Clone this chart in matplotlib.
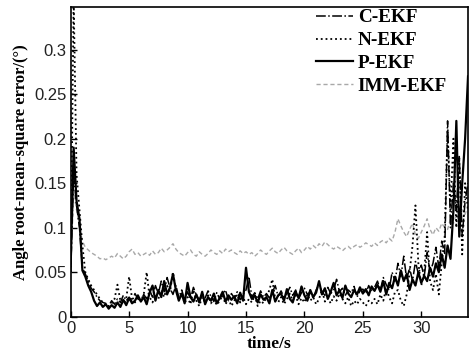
import numpy as np
import matplotlib
matplotlib.use("Agg")
import matplotlib.pyplot as plt
from matplotlib.ticker import FuncFormatter

# sample spacing of the curves (s)
dt = 0.25

# RMS angle error, one value every 0.25 s (0 .. 34 s)
c_ekf = [
    0.05, 0.16, 0.125, 0.10,
    0.055, 0.048, 0.040, 0.032,
    0.028, 0.022, 0.018, 0.016,
    0.015, 0.012, 0.018, 0.014,
    0.020, 0.016, 0.024, 0.018,
    0.022, 0.017, 0.026, 0.020,
    0.018, 0.025, 0.020, 0.030,
    0.022, 0.035, 0.026, 0.040,
    0.028, 0.044, 0.032, 0.025,
    0.035, 0.022, 0.030, 0.019,
    0.028, 0.020, 0.033, 0.024,
    0.019, 0.026, 0.021, 0.029,
    0.023, 0.017, 0.027, 0.020,
    0.025, 0.030, 0.018, 0.026,
    0.021, 0.028, 0.019, 0.025,
    0.030, 0.045, 0.022, 0.027,
    0.020, 0.029, 0.022, 0.026,
    0.021, 0.027, 0.035, 0.023,
    0.029, 0.022, 0.026, 0.033,
    0.024, 0.030, 0.020, 0.027,
    0.032, 0.025, 0.028, 0.021,
    0.030, 0.036, 0.028, 0.024,
    0.033, 0.026, 0.030, 0.042,
    0.028, 0.032, 0.024, 0.030,
    0.027, 0.034, 0.022, 0.029,
    0.031, 0.026, 0.035, 0.028,
    0.033, 0.040, 0.030, 0.044,
    0.036, 0.030, 0.050, 0.040,
    0.060, 0.045, 0.068, 0.042,
    0.055, 0.040, 0.062, 0.048,
    0.058, 0.045, 0.072, 0.050,
    0.060, 0.078, 0.055, 0.085,
    0.070, 0.220, 0.100, 0.150,
    0.120, 0.180, 0.090, 0.130,
    0.150,
]

n_ekf = [
    0.05, 0.36, 0.16, 0.12,
    0.080, 0.050, 0.042, 0.035,
    0.030, 0.025, 0.020, 0.016,
    0.013, 0.011, 0.015, 0.020,
    0.036, 0.018, 0.014, 0.020,
    0.045, 0.020, 0.016, 0.022,
    0.018, 0.025, 0.050, 0.022,
    0.016, 0.025, 0.020, 0.030,
    0.022, 0.035, 0.028, 0.050,
    0.030, 0.020, 0.026, 0.015,
    0.022, 0.014, 0.030, 0.018,
    0.012, 0.022, 0.016, 0.024,
    0.015, 0.020, 0.013, 0.018,
    0.024, 0.014, 0.020, 0.012,
    0.018, 0.025, 0.016, 0.022,
    0.014, 0.020, 0.016, 0.024,
    0.012, 0.018, 0.015, 0.022,
    0.030, 0.042, 0.020, 0.016,
    0.022, 0.014, 0.020, 0.026,
    0.018, 0.024, 0.014, 0.021,
    0.016, 0.025, 0.018, 0.022,
    0.014, 0.020, 0.030, 0.017,
    0.021, 0.015, 0.023, 0.018,
    0.026, 0.020, 0.015, 0.022,
    0.012, 0.018, 0.014, 0.020,
    0.016, 0.012, 0.018, 0.015,
    0.020, 0.014, 0.025, 0.018,
    0.032, 0.022, 0.015, 0.028,
    0.030, 0.018, 0.012, 0.025,
    0.050, 0.080, 0.125, 0.060,
    0.035, 0.050, 0.095, 0.040,
    0.030, 0.048, 0.025, 0.060,
    0.090, 0.210, 0.120, 0.200,
    0.100, 0.180, 0.070, 0.150,
    0.120,
]

p_ekf = [
    0.06, 0.19, 0.13, 0.11,
    0.052, 0.045, 0.035, 0.028,
    0.018, 0.012, 0.016, 0.011,
    0.014, 0.009, 0.013, 0.010,
    0.016, 0.011, 0.019, 0.013,
    0.021, 0.015, 0.018, 0.024,
    0.017, 0.022, 0.014, 0.027,
    0.035, 0.018, 0.030, 0.022,
    0.040, 0.025, 0.033, 0.048,
    0.030, 0.018, 0.026, 0.015,
    0.038, 0.022, 0.017, 0.025,
    0.016, 0.028, 0.014, 0.022,
    0.018, 0.026, 0.015, 0.021,
    0.028, 0.017, 0.024, 0.019,
    0.023, 0.015, 0.027, 0.018,
    0.055, 0.028, 0.020, 0.024,
    0.016, 0.025, 0.019, 0.022,
    0.015, 0.030, 0.017, 0.024,
    0.026, 0.018, 0.031, 0.020,
    0.016, 0.028, 0.021, 0.034,
    0.024, 0.018, 0.030, 0.022,
    0.027, 0.040, 0.025, 0.032,
    0.020, 0.028, 0.038, 0.024,
    0.030, 0.021, 0.035, 0.026,
    0.022, 0.030, 0.025, 0.033,
    0.026, 0.031, 0.024, 0.034,
    0.029, 0.036, 0.028, 0.040,
    0.025, 0.038, 0.032, 0.045,
    0.035, 0.052, 0.040, 0.048,
    0.030, 0.042, 0.035, 0.050,
    0.038, 0.046, 0.040, 0.055,
    0.045, 0.060, 0.050, 0.070,
    0.055, 0.080, 0.065, 0.120,
    0.220, 0.090, 0.150, 0.200,
    0.270,
]

imm_ekf = [
    0.05, 0.14, 0.12, 0.10,
    0.085, 0.078, 0.075, 0.072,
    0.070, 0.068, 0.065, 0.066,
    0.064, 0.066, 0.068, 0.066,
    0.071, 0.068, 0.065, 0.068,
    0.073, 0.076, 0.070, 0.072,
    0.068, 0.070, 0.072, 0.069,
    0.074, 0.070, 0.072, 0.077,
    0.073, 0.075, 0.078, 0.082,
    0.076, 0.072, 0.070, 0.068,
    0.072, 0.075, 0.070, 0.068,
    0.073, 0.070, 0.068, 0.071,
    0.075, 0.072, 0.070, 0.074,
    0.071, 0.076, 0.073, 0.075,
    0.072, 0.070, 0.074, 0.071,
    0.073, 0.070, 0.072, 0.068,
    0.071, 0.075, 0.072, 0.070,
    0.074, 0.077, 0.073, 0.071,
    0.075, 0.078, 0.074, 0.072,
    0.070, 0.074, 0.077, 0.072,
    0.075, 0.079, 0.076, 0.080,
    0.077, 0.082, 0.079, 0.084,
    0.081, 0.078, 0.076, 0.079,
    0.077, 0.074, 0.077, 0.079,
    0.076, 0.079, 0.081, 0.078,
    0.080, 0.083, 0.081, 0.079,
    0.083, 0.080, 0.084, 0.086,
    0.083, 0.088, 0.085, 0.095,
    0.110, 0.102, 0.095, 0.090,
    0.098, 0.105, 0.092, 0.088,
    0.095, 0.102, 0.110, 0.098,
    0.092, 0.100, 0.096, 0.105,
    0.100, 0.098, 0.110, 0.105,
    0.115, 0.108, 0.120, 0.115,
    0.125,
]

t = np.arange(len(p_ekf)) * dt

fig = plt.figure(figsize=(4.73, 3.61), dpi=100)
ax = fig.add_axes([0.1495, 0.1227, 0.84, 0.858])

ax.plot(t, imm_ekf, color='#a8a8a8', lw=1.0, ls=(0, (3, 2)), label='IMM-EKF', zorder=2)
ax.plot(t, c_ekf, color='black', lw=1.1, ls='-.', label='C-EKF', zorder=3)
ax.plot(t, n_ekf, color='black', lw=1.3, ls=':', label='N-EKF', zorder=3)
ax.plot(t, p_ekf, color='black', lw=1.6, ls='-', label='P-EKF', zorder=4)

ax.set_xlim(0, 34)
ax.set_ylim(0, 0.348)
ax.set_xticks([0, 5, 10, 15, 20, 25, 30])
ax.set_yticks([0, 0.05, 0.1, 0.15, 0.2, 0.25, 0.3])
ax.yaxis.set_major_formatter(FuncFormatter(lambda v, p: '%g' % v))

ax.tick_params(direction='in', length=4, width=1, labelsize=12,
               labelcolor='#222222', pad=3)
for lab in ax.get_xticklabels() + ax.get_yticklabels():
    lab.set_family('Liberation Sans')
for s in ax.spines.values():
    s.set_linewidth(1.2)

ax.set_xlabel('time/s', family='Liberation Serif', fontweight='bold', fontsize=12.5, labelpad=0)
ax.set_ylabel('Angle root-mean-square error/(°)', family='Liberation Serif',
              fontweight='bold', fontsize=12, labelpad=4)

handles, labels = ax.get_legend_handles_labels()
order = [1, 2, 3, 0]
leg = ax.legend([handles[i] for i in order], [labels[i] for i in order],
                loc='upper right', bbox_to_anchor=(0.947, 0.994), frameon=False,
                handlelength=1.93, handletextpad=0.26, labelspacing=0.29,
                borderaxespad=0, borderpad=0,
                prop={'family': 'Liberation Serif', 'weight': 'bold', 'size': 13.8})

fig.savefig('out.png', dpi=100)
